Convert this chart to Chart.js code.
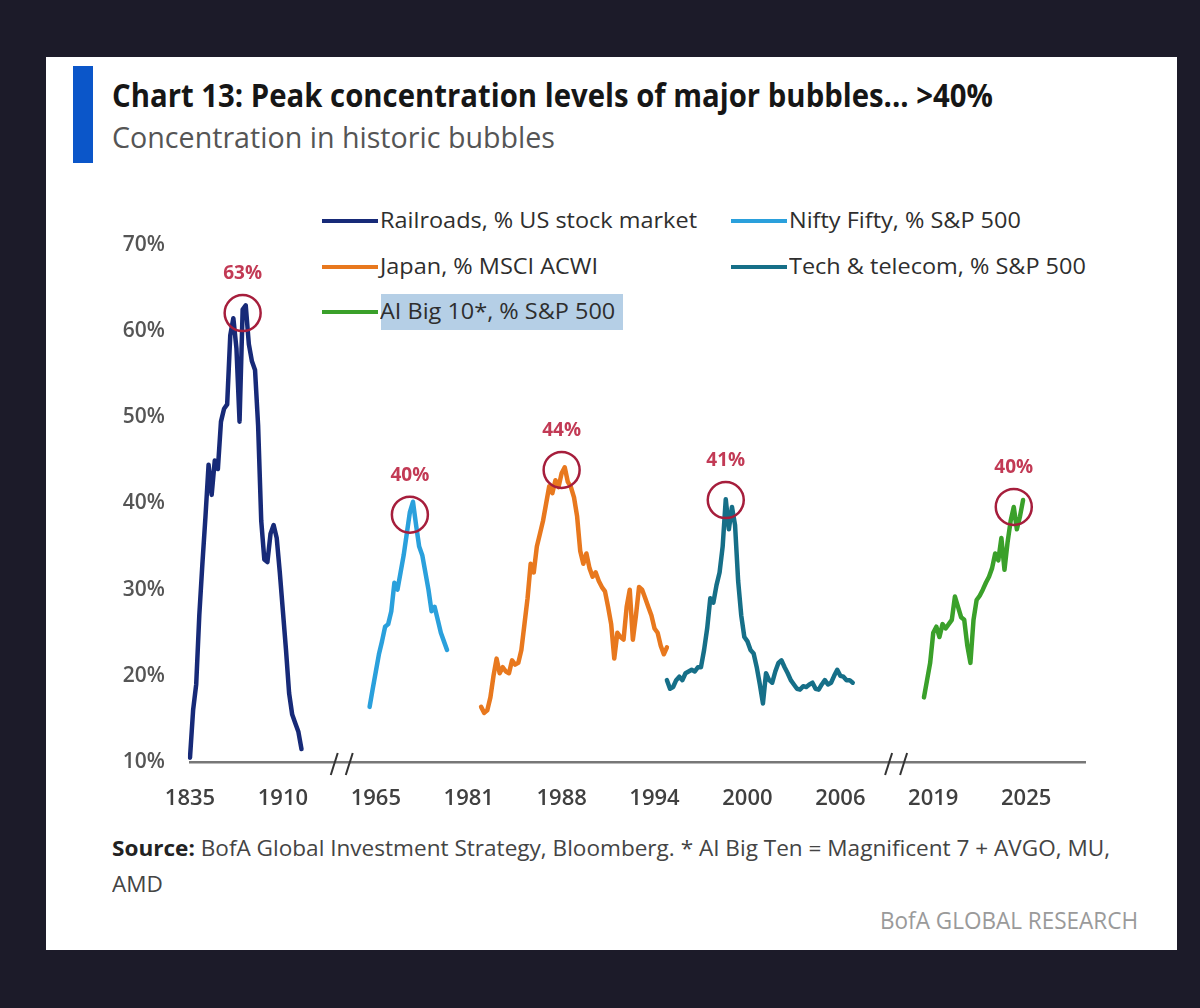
<!DOCTYPE html>
<html><head><meta charset="utf-8">
<script src="https://cdn.jsdelivr.net/npm/chart.js@4.4.1/dist/chart.umd.min.js"></script>
<style>
html,body{margin:0;padding:0;background:#1c1b29;width:1200px;height:1008px;overflow:hidden;font-family:'Open Sans',sans-serif;}
#card{position:absolute;left:46px;top:57px;width:1131px;height:893px;background:#fff;}
#bar{position:absolute;left:73px;top:66px;width:20px;height:97px;background:#0b56c9;}
.t{position:absolute;white-space:nowrap;line-height:1;transform-origin:0 0;}
.sw{position:absolute;width:56px;height:4px;}
#hl{position:absolute;left:381px;top:294px;width:242px;height:36px;background:#b5cfe6;}
#chart{position:absolute;left:0;top:0;}
</style></head><body>
<div id="card"></div><div id="bar"></div><div id="hl"></div>
<div id="texts"></div>
<canvas id="chart" width="1200" height="1008"></canvas>
<script>
// ---- data ----
const tickYears = ['1835','1910','1965','1981','1988','1994','2000','2006','2019','2025'];
const stepsPerTick = 30;
const stepCount = 290;

const railroadsStart = 0;
const railroads = [10.5,16,19,27,33,38.5,44.5,41,45,44,49.5,51,51.5,59.5,61.5,58,49.5,62.5,63,58.5,56.5,55.5,49,38,33.5,33.2,36.5,37.5,36,32,27.5,23,18,15.5,14.5,13.5,11.5];

const niftyStart = 58;
const nifty = [16.4,18.5,20.5,22.5,24,25.7,26,27.5,30.8,30,32,34,36.5,39,40.2,37.5,35,34,32,30,27.5,28,26.5,25,24,23];

const japanStart = 94;
const japan = [16.4,15.7,16,17.5,20,22,20.3,21,20.5,20.3,21.8,21.3,21.5,23,26,29,33,32,35,36.5,38,40,42,41.2,42.7,41.9,43.5,44.2,42.5,41.9,40.7,38.5,34.5,33,34.2,32.5,31.5,32,31,30.3,29.8,28,26,22,25,24.5,24.2,28,30,24.2,27,30.3,30,29,28,27,25.5,25,23.5,22.5,23.3];

const techStart = 154;
const tech = [19.5,18.5,18.7,19.5,19.9,19.5,20.3,20.5,20.7,20.5,21,21,23,25.5,29,28.5,30.5,32,35,40.5,37,39.6,37.5,31,27,24.5,24,23,22.6,21,19,16.8,20.3,19.5,19.2,20.5,21.5,21.8,21,20.3,19.5,19,18.5,18.4,18.8,18.7,19,19.2,18.5,18.4,19,19.5,19,19.2,20,20.7,20,19.9,19.5,19.5,19.2];

const aiStart = 237;
const ai = [17.5,19.5,21.5,25,25.7,24.5,26,25.5,26,26.5,29.2,28,26.8,26.5,23.5,21.5,26.5,28.8,29.3,30,30.8,31.5,32.5,34.2,33.4,36,32.3,35.5,38,39.6,37,38.5,40.4];

const peakIndex = [17,71,120,173,266];
const peakValues = [62.1,38.7,43.9,40.4,39.6];
const peakLabels = ['63%','40%','44%','41%','40%'];

const axisBreaks = [49,228];

const seriesNames = ['Railroads, % US stock market','Nifty Fifty, % S&P 500','Japan, % MSCI ACWI','Tech & telecom, % S&P 500','AI Big 10*, % S&P 500'];
const seriesColors = ['#172a78','#2aa0dc','#e8781e','#166f88','#3aa02a'];

// ---- text layout ----
const texts = document.getElementById('texts');
function addText(html, left, baseline, fs, opts){
  const el = document.createElement('div');
  el.className = 't';
  el.innerHTML = html;
  el.style.fontSize = fs + 'px';
  el.style.left = left + 'px';
  el.style.top = (baseline - 0.888*fs) + 'px';
  el.style.fontWeight = opts.weight || 400;
  el.style.color = opts.color || '#333';
  texts.appendChild(el);
  let k = 1;
  if (opts.width) { k = opts.width / el.getBoundingClientRect().width; }
  if (opts.scale) k = opts.scale;
  el.style.transform = 'scaleX(' + k + ')';
  if (opts.right) { el.style.left = (opts.right - el.getBoundingClientRect().width) + 'px'; }
  return k;
}
addText('Chart 13: Peak concentration levels of major bubbles... &gt;40%', 112, 107, 32, {weight:700, color:'#161616', width:881});
addText('Concentration in historic bubbles', 112, 148, 29, {color:'#555', width:443});
const ks = addText('<b style="color:#222">Source:</b> BofA Global Investment Strategy, Bloomberg. * AI Big Ten = Magnificent 7 + AVGO, MU,', 112, 857, 21, {color:'#444', width:998});
addText('AMD', 112, 893, 21, {color:'#444', scale:ks});
addText('BofA GLOBAL RESEARCH', 880, 929, 23, {color:'#9a9a9a', width:258, right:1138});

// legend
const legendPos = [[322,221],[731,221],[322,267],[731,267],[322,312]];
let kl = null;
seriesNames.forEach((n,i)=>{
  const [x,y] = legendPos[i];
  const sw = document.createElement('div'); sw.className='sw';
  sw.style.left = x+'px'; sw.style.top = (y-2)+'px'; sw.style.background = seriesColors[i];
  texts.appendChild(sw);
  const k = addText(n.replace('&','&amp;'), x+58, y+7.5, 21, kl===null ? {color:'#2e2e2e', width:317} : {color:'#2e2e2e', scale:kl});
  if (kl===null) kl = k;
});

// ---- chart ----
const labels = Array.from({length: stepCount}, (_, i) => (i % stepsPerTick === 0 && tickYears[i/stepsPerTick]) || '');
function placeSeries(start, values){ const arr = new Array(stepCount).fill(null); values.forEach((v,i)=>{arr[start+i]=v;}); return arr; }
const peakData = new Array(stepCount).fill(null);
peakIndex.forEach((idx,k)=>{ peakData[idx] = peakValues[k]; });

const lineDs = (name, start, vals, color) => ({label:name, data:placeSeries(start, vals), borderColor:color, backgroundColor:color, borderWidth:4.5, pointRadius:0, tension:0, spanGaps:false, borderJoinStyle:'round', borderCapStyle:'round'});

const annot = {
  id:'annot',
  afterDatasetsDraw(chart){
    const ctx = chart.ctx; const meta = chart.getDatasetMeta(0);
    ctx.save();
    ctx.font = '700 19px "Open Sans"'; ctx.fillStyle = '#c23a55'; ctx.textAlign = 'center'; ctx.textBaseline = 'middle';
    peakIndex.forEach((idx,k)=>{ const pt = meta.data[idx]; ctx.fillText(peakLabels[k], pt.x, pt.y - 39); });
    const xs = chart.scales.x, y0 = chart.chartArea.bottom;
    ctx.strokeStyle = '#333'; ctx.lineWidth = 2;
    axisBreaks.forEach(b=>{
      const px = xs.getPixelForValue(b);
      [-7.5,7.5].forEach(d=>{ ctx.beginPath(); ctx.moveTo(px+d-3.5, y0+13); ctx.lineTo(px+d+3.5, y0-9); ctx.stroke(); });
    });
    ctx.restore();
  }
};

new Chart(document.getElementById('chart'), {
  type:'line',
  data:{
    labels,
    datasets:[
      {label:'peaks', data:peakData, showLine:false, pointStyle:'circle', pointRadius:18, pointHoverRadius:18, pointBorderWidth:2.5, pointBorderColor:'#a61e3c', pointBackgroundColor:'rgba(0,0,0,0)', borderColor:'#a61e3c'},
      lineDs(seriesNames[0], railroadsStart, railroads, seriesColors[0]),
      lineDs(seriesNames[1], niftyStart, nifty, seriesColors[1]),
      lineDs(seriesNames[2], japanStart, japan, seriesColors[2]),
      lineDs(seriesNames[3], techStart, tech, seriesColors[3]),
      lineDs(seriesNames[4], aiStart, ai, seriesColors[4])
    ]
  },
  options:{
    responsive:false, animation:false,
    layout:{padding:{left:100, right:115, top:245, bottom:196}},
    plugins:{legend:{display:false}, tooltip:{enabled:false}},
    scales:{
      x:{
        type:'category',
        grid:{display:false, drawTicks:false},
        border:{display:true, color:'#777', width:2.5},
        ticks:{autoSkip:false, maxRotation:0, minRotation:0, padding:24, color:'#404040', font:{family:'Open Sans', size:22, weight:'600'},
          callback:function(v){ const l = this.getLabelForValue(v); return l === '' ? null : l; }},
        afterFit:(s)=>{ s.height = 50; }
      },
      y:{
        min:10, max:70,
        grid:{display:false, drawTicks:false},
        border:{display:false},
        ticks:{stepSize:10, padding:25, color:'#555', font:{family:'Open Sans', size:21, weight:'600'}, callback:(v)=>v+'%'},
        afterFit:(s)=>{ s.width = 90; }
      }
    }
  },
  plugins:[annot]
});
</script>
</body></html>
